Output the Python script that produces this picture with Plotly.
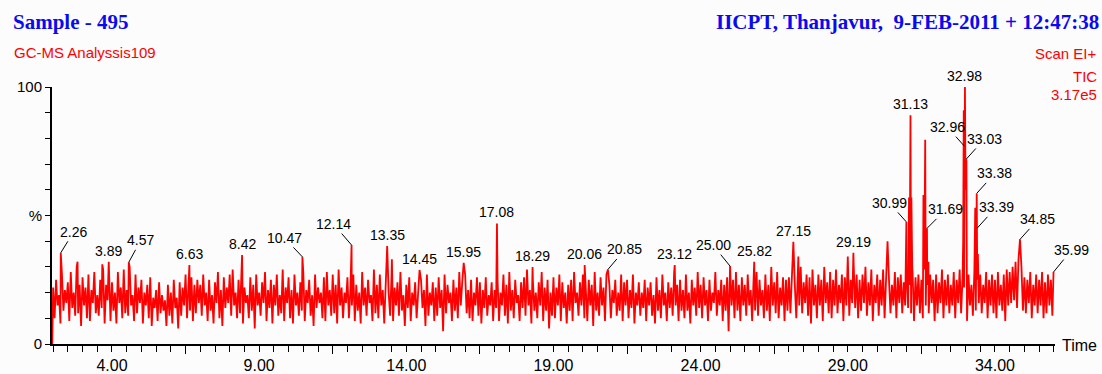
import plotly.graph_objects as go

# ---------------- data ----------------
# TIC trace (relative abundance, %) sampled every 0.05 min, split by segment
GRID_STEP = 0.05
START_POINT = (1.97, 0)

seg_02_07 = [22, 10, 25, 15, 19, 8, 27, 13, 21, 16,
             24, 9, 28, 14, 20, 11, 30, 12, 23, 7,
             26, 15, 22, 10, 27, 9, 21, 16, 28, 12,
             19, 11, 25, 14, 29, 8, 23, 17, 26, 9,
             24, 13, 20, 8, 28, 16, 22, 10, 29, 12,
             21, 11, 30, 15, 19, 9, 27, 12, 22, 16,
             25, 8, 20, 15, 23, 10, 26, 7, 18, 14,
             21, 9, 24, 12, 19, 13, 17, 7, 23, 11,
             20, 8, 25, 14, 18, 6, 24, 11, 22, 15,
             27, 10, 20, 13, 26, 9, 23, 12, 25, 16]
seg_07_12 = [23, 11, 27, 15, 20, 9, 25, 13, 19, 8,
             24, 16, 28, 10, 21, 7, 26, 14, 22, 16,
             27, 11, 29, 15, 20, 10, 25, 12, 28, 8,
             22, 16, 19, 10, 26, 13, 23, 6, 27, 15,
             20, 11, 24, 16, 28, 9, 21, 14, 25, 8,
             23, 15, 27, 11, 19, 12, 29, 9, 22, 16,
             26, 10, 21, 8, 27, 15, 20, 11, 24, 13,
             28, 9, 21, 16, 25, 11, 19, 7, 27, 14,
             22, 16, 20, 10, 26, 9, 28, 15, 21, 11,
             27, 12, 23, 8, 29, 15, 22, 10, 20, 16]
seg_12_17 = [26, 10, 21, 15, 27, 9, 23, 13, 20, 8,
             28, 15, 22, 11, 25, 16, 19, 9, 29, 12,
             23, 10, 27, 15, 21, 8, 25, 13, 20, 11,
             27, 9, 22, 15, 24, 11, 28, 13, 19, 7,
             23, 14, 26, 9, 20, 15, 24, 10, 19, 8,
             25, 14, 21, 7, 27, 11, 20, 15, 24, 9,
             22, 11, 26, 14, 21, 5, 27, 12, 23, 16,
             20, 9, 25, 13, 22, 10, 28, 15, 24, 8,
             27, 12, 21, 10, 25, 9, 20, 15, 26, 11,
             24, 8, 21, 14, 26, 11, 19, 15, 24, 9]
seg_17_22 = [21, 14, 25, 9, 20, 15, 27, 11, 23, 8,
             28, 13, 21, 10, 25, 16, 19, 9, 24, 14,
             26, 11, 29, 15, 21, 8, 25, 13, 20, 10,
             24, 15, 28, 9, 22, 13, 25, 6, 20, 11,
             26, 10, 22, 15, 27, 9, 24, 14, 20, 8,
             23, 13, 25, 9, 28, 16, 20, 11, 24, 15,
             27, 10, 21, 9, 25, 15, 23, 7, 28, 13,
             20, 11, 26, 15, 22, 9, 27, 14, 23, 10,
             21, 16, 25, 11, 20, 13, 27, 9, 24, 15,
             25, 10, 21, 14, 27, 8, 20, 15, 24, 11]
seg_22_27 = [20, 14, 25, 9, 22, 15, 24, 11, 19, 8,
             26, 13, 21, 10, 27, 15, 20, 9, 24, 14,
             22, 11, 28, 15, 23, 9, 25, 13, 21, 10,
             27, 13, 20, 8, 25, 15, 22, 11, 28, 14,
             23, 10, 26, 15, 21, 9, 25, 13, 20, 16,
             28, 11, 21, 15, 25, 9, 23, 13, 26, 5,
             22, 15, 25, 10, 28, 13, 23, 9, 26, 15,
             23, 11, 27, 15, 21, 9, 25, 13, 28, 11,
             25, 15, 21, 10, 27, 13, 23, 9, 30, 15,
             24, 12, 28, 10, 22, 15, 26, 9, 25, 13]
seg_27_32 = [26, 12, 29, 16, 23, 10, 27, 15, 30, 12,
             24, 16, 27, 11, 26, 8, 29, 15, 23, 10,
             27, 15, 25, 9, 30, 16, 24, 12, 28, 10,
             25, 15, 29, 12, 23, 16, 27, 9, 26, 15,
             28, 11, 25, 16, 31, 14, 27, 10, 25, 13,
             27, 16, 30, 11, 24, 15, 29, 9, 23, 16,
             27, 11, 25, 15, 29, 10, 30, 16, 25, 12,
             23, 15, 28, 10, 26, 16, 27, 12, 24, 15,
             27, 14, 23, 12, 28, 9, 26, 15, 27, 12,
             25, 10, 29, 15, 23, 12, 27, 16, 25, 9]
seg_32_36 = [27, 12, 24, 16, 29, 10, 25, 15, 27, 12,
             23, 15, 28, 10, 25, 16, 29, 12, 26, 22,
             60, 9, 27, 15, 23, 11, 28, 13, 25, 16,
             27, 12, 23, 16, 28, 10, 25, 15, 27, 12,
             25, 10, 28, 15, 23, 13, 27, 9, 29, 15,
             28, 16, 30, 17, 32, 14, 28, 16, 30, 13,
             26, 12, 25, 16, 28, 10, 23, 15, 27, 12,
             25, 15, 28, 10, 24, 12, 27, 15, 25, 11]
SEGMENT_STARTS = [2.00, 7.00, 12.00, 17.00, 22.00, 27.00, 32.00]
SEGMENTS = [seg_02_07, seg_07_12, seg_12_17, seg_17_22, seg_22_27, seg_27_32, seg_32_36]

# labelled peaks: retention time, apex height (%), label
peak_times = [2.26, 3.89, 4.57, 6.63, 8.42, 10.47, 12.14, 13.35, 14.45, 15.95,
              17.08, 18.29, 20.06, 20.85, 23.12, 25.00, 25.82, 27.15, 29.19,
              30.99, 31.13, 31.69, 32.96, 32.98, 33.03, 33.38, 33.39, 34.85, 35.99]
peak_heights = [35.5, 32, 31.8, 30.7, 34.6, 33.9, 38.5, 38.1, 28.8, 31.6,
                46.9, 30, 30.7, 29, 30.7, 30.3, 32, 39.8, 35.5,
                47.5, 89, 45, 77, 100, 72, 58.6, 45, 40.7, 28]
peak_labels = ["2.26", "3.89", "4.57", "6.63", "8.42", "10.47", "12.14", "13.35",
               "14.45", "15.95", "17.08", "18.29", "20.06", "20.85", "23.12",
               "25.00", "25.82", "27.15", "29.19", "30.99", "31.13", "31.69",
               "32.96", "32.98", "33.03", "33.38", "33.39", "34.85", "35.99"]

# other visible (unlabelled) spikes
spike_times = [2.83, 3.67, 8.08, 13.51, 26.38, 27.32, 29.00, 30.35,
               31.06, 31.08, 31.16, 31.19, 31.57, 31.63, 31.74,
               32.92, 32.94, 33.33, 33.42, 34.80]
spike_heights = [32, 31, 28, 33, 30, 34, 34, 40,
                 43, 57, 57, 30, 58, 79.5, 32,
                 40, 91, 53, 35, 33]

# header texts
TITLE_LEFT = "Sample - 495"
TITLE_RIGHT = "IICPT, Thanjavur,\u00a0 9-FEB-2011 + 12:47:38"
SUBTITLE = "GC-MS Analyssis109"
SCAN_INFO = ["Scan EI+", "TIC", "3.17e5"]

x_tickvals = [4, 9, 14, 19, 24, 29, 34]
x_ticktext = ["4.00", "9.00", "14.00", "19.00", "24.00", "29.00", "34.00"]
x_long_ticks = [6.5, 11.5, 16.5, 21.5, 26.5, 31.5]
y_tickvals = [0, 50, 100]
y_ticktext = ["0", "%", "100"]

# ---------------- styles / layout ----------------
W, H = 1102, 374
ML, MR, MT, MB = 52, 47, 87, 30
PW, PH = W - ML - MR, H - MT - MB
RED = "#FF0000"
BLUE = "#0A0AF0"
SANS = "Liberation Sans, Arial, sans-serif"
SERIF = "Liberation Serif, Times New Roman, serif"
BG = "#FCFCFC"

# label offsets (pixels) for labels drawn with a leader line
leader_offsets = {
    "2.26": (13, -21), "4.57": (12, -22), "10.47": (-18, -19), "12.14": (-18, -21),
    "20.85": (17, -20), "25.00": (-17, -21), "30.99": (-17, -19), "31.69": (19, -19),
    "32.96": (-17, -19), "33.03": (18, -20), "33.38": (18, -20), "33.39": (19, -21),
    "34.85": (18, -20), "35.99": (18, -22),
}

# ---------------- build trace ----------------
points = {}
for start, seg in zip(SEGMENT_STARTS, SEGMENTS):
    for i, v in enumerate(seg):
        points[round(start + i * GRID_STEP, 3)] = v
for t, v in zip(spike_times, spike_heights):
    points[round(t, 3)] = v
for t, v in zip(peak_times, peak_heights):
    points[round(t, 3)] = v
points[START_POINT[0]] = START_POINT[1]
xs = sorted(points)
ys = [points[t] for t in xs]

fig = go.Figure()
fig.add_trace(go.Scatter(x=xs, y=ys, mode="lines",
                         line=dict(color=RED, width=1.8),
                         hoverinfo="skip", showlegend=False))
fig.add_trace(go.Scatter(x=[], y=[], xaxis="x2", yaxis="y",
                         hoverinfo="skip", showlegend=False))

annotations = []
for t, h, lab in zip(peak_times, peak_heights, peak_labels):
    if lab in leader_offsets:
        ax, ay = leader_offsets[lab]
        annotations.append(dict(x=t, y=h, xref="x", yref="y", text=lab,
                                showarrow=True, ax=ax, ay=ay, arrowhead=0,
                                arrowwidth=1, arrowcolor="black", standoff=0,
                                font=dict(family=SANS, size=14, color="black")))
    else:
        annotations.append(dict(x=t, y=h, xref="x", yref="y", text=lab,
                                showarrow=False, yanchor="middle", yshift=11,
                                font=dict(family=SANS, size=14, color="black")))


def px_x(px):
    return (px - ML) / PW


def px_y(py):
    return (H - MB - py) / PH


annotations += [
    dict(x=px_x(11), y=px_y(22), xref="paper", yref="paper", text=f"<b>{TITLE_LEFT}</b>",
         showarrow=False, xanchor="left", yanchor="middle",
         font=dict(family=SERIF, size=21, color=BLUE)),
    dict(x=px_x(1101), y=px_y(22), xref="paper", yref="paper", text=f"<b>{TITLE_RIGHT}</b>",
         showarrow=False, xanchor="right", yanchor="middle",
         font=dict(family=SERIF, size=21, color=BLUE)),
    dict(x=px_x(12), y=px_y(52), xref="paper", yref="paper", text=SUBTITLE,
         showarrow=False, xanchor="left", yanchor="middle",
         font=dict(family=SANS, size=15, color=RED)),
    dict(x=px_x(1060), y=px_y(345), xref="paper", yref="paper", text="Time",
         showarrow=False, xanchor="left", yanchor="middle",
         font=dict(family=SANS, size=16, color="black")),
]
for txt, py in zip(SCAN_INFO, [53, 77, 94]):
    annotations.append(dict(x=px_x(1099), y=px_y(py), xref="paper", yref="paper", text=txt,
                            showarrow=False, xanchor="right", yanchor="middle",
                            font=dict(family=SANS, size=15, color=RED)))

XR = [1.962, 36.04]
fig.update_layout(
    width=W, height=H, autosize=False,
    margin=dict(l=ML, r=MR, t=MT, b=MB, pad=0, autoexpand=False),
    paper_bgcolor=BG, plot_bgcolor=BG,
    showlegend=False,
    annotations=annotations,
    xaxis=dict(range=XR, showline=True, linecolor="black", linewidth=2,
               automargin=False,
               ticks="outside", ticklen=6, tickwidth=1, tickcolor="black",
               tickmode="array", tickvals=x_tickvals, ticktext=x_ticktext,
               tickfont=dict(family=SANS, size=16, color="black"),
               minor=dict(dtick=0.5, tick0=4, ticks="outside", ticklen=6,
                          tickwidth=1, tickcolor="black", showgrid=False),
               showgrid=False, zeroline=False),
    xaxis2=dict(range=XR, overlaying="x", anchor="y", side="bottom",
                automargin=False,
                showline=False, ticks="outside", ticklen=9, tickwidth=1,
                tickcolor="black", tickmode="array", tickvals=x_long_ticks,
                showticklabels=False, showgrid=False, zeroline=False),
    yaxis=dict(range=[0, 100], showline=True, linecolor="black", linewidth=2,
               automargin=False,
               ticks="outside", ticklen=5, tickwidth=1, tickcolor="black",
               tickmode="array", tickvals=y_tickvals, ticktext=y_ticktext,
               tickfont=dict(family=SANS, size=15, color="black"),
               minor=dict(dtick=10, ticks="outside", ticklen=5, tickwidth=1,
                          tickcolor="black", showgrid=False),
               showgrid=False, zeroline=False),
)

fig.write_html("out.html",
               config={"displayModeBar": False},
               post_script="document.body.style.margin='0px';"
                           "document.body.style.overflow='hidden';")
